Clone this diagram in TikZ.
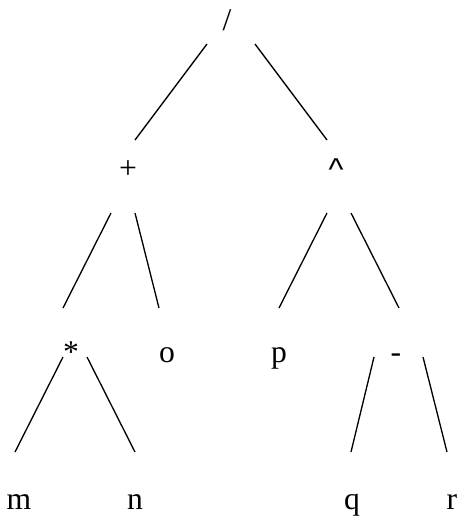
\documentclass[tikz,border=0pt]{standalone}
\usepackage{fontspec}
\setmainfont{Liberation Serif}
\newfontfamily\caretfont{Liberation Sans}
\usepackage{tikz}

\begin{document}
\begin{tikzpicture}[
  lbl/.style={anchor=base, inner sep=0pt, font=\fontsize{18}{20}\selectfont},
  branch/.style={line width=0.75pt}
]
\useasboundingbox (0,0) rectangle (9.22,-10.36);
% operators
\node[lbl] (div)   at (4.54,-0.60) {/};
\node[lbl] (plus)  at (2.56,-3.56) {+};
\node[lbl] (pow)   at (6.72,-3.60) {\caretfont\textasciicircum};
\node[lbl] (times) at (1.42,-7.24) {*};
\node[lbl] (minus) at (7.92,-7.24) {-};
% operands
\node[lbl] (o) at (3.34,-7.24) {o};
\node[lbl] (p) at (5.58,-7.24) {p};
\node[lbl] (m) at (0.38,-10.18) {m};
\node[lbl] (n) at (2.70,-10.18) {n};
\node[lbl] (q) at (7.04,-10.18) {q};
\node[lbl] (r) at (9.04,-10.18) {r};
% branches
\draw[branch] ([shift={(-0.40,-0.28)}]div.base) -- ([shift={(0.14,0.76)}]plus.base);
\draw[branch] ([shift={(0.56,-0.28)}]div.base) -- ([shift={(-0.18,0.80)}]pow.base);
\draw[branch] ([shift={(-0.34,-0.70)}]plus.base) -- ([shift={(-0.16,1.08)}]times.base);
\draw[branch] ([shift={(0.14,-0.70)}]plus.base) -- ([shift={(-0.16,1.08)}]o.base);
\draw[branch] ([shift={(-0.18,-0.66)}]pow.base) -- ([shift={(0,1.08)}]p.base);
\draw[branch] ([shift={(0.30,-0.66)}]pow.base) -- ([shift={(0.06,1.08)}]minus.base);
\draw[branch] ([shift={(-0.16,0.10)}]times.base) -- ([shift={(-0.08,1.14)}]m.base);
\draw[branch] ([shift={(0.32,0.10)}]times.base) -- ([shift={(0,1.14)}]n.base);
\draw[branch] ([shift={(-0.44,0.10)}]minus.base) -- ([shift={(-0.02,1.14)}]q.base);
\draw[branch] ([shift={(0.54,0.10)}]minus.base) -- ([shift={(-0.10,1.14)}]r.base);
\end{tikzpicture}
\end{document}
